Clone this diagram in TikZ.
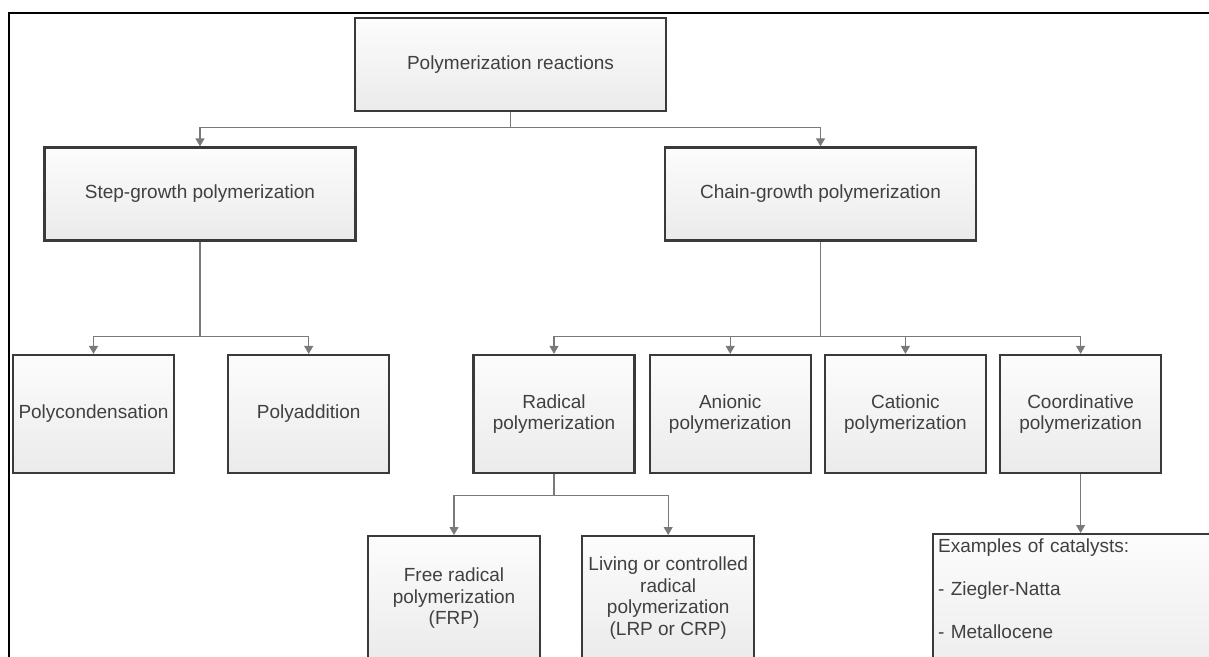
\documentclass[tikz,border=0pt]{standalone}
\usepackage{fontspec}
\setmainfont{Liberation Sans}
\usetikzlibrary{positioning,arrows.meta,calc}

\definecolor{boxline}{HTML}{3A3A3A}
\definecolor{linkgray}{HTML}{7A7A7A}
\definecolor{txtgray}{HTML}{404040}

\begin{document}
\begin{tikzpicture}[
  x=0.5pt, y=-0.5pt,
  font=\fontsize{9.5}{10.8}\selectfont,
  >={Triangle[length=4pt,width=4.5pt]},
  box/.style={draw=boxline, line width=1.1pt, align=center, text=txtgray,
              top color=black!1, bottom color=black!8, inner xsep=0.3pt, inner ysep=2pt},
  big/.style={box, minimum width=155.5pt, minimum height=46.5pt},
  small/.style={box, minimum width=80.5pt, minimum height=59pt},
  tall/.style={box, minimum width=86pt, minimum height=62pt, anchor=north},
  note/.style={box, anchor=north west, align=left, text width=155pt,
               inner xsep=2.5pt, inner ysep=2.5pt},
  link/.style={draw=linkgray, line width=0.55pt},
  arr/.style={link, ->},
]
\useasboundingbox (0,0) rectangle (1209,657);
\clip (0,0) rectangle (1209,657);

%% ---------- frame ----------
\draw[line width=1pt] (9,657) -- (9,13) -- (1209,13);

%% ---------- row 1 and 2 ----------
\node[big] (root) at (510.5,64.5) {Polymerization reactions};

\node[big] (step) at (200,194) {Step-growth polymerization};
\node[big] (chain) at (820.5,194) {Chain-growth polymerization};

\coordinate (rootj) at ($(root.south)+(0,15)$);
\draw[link] (root.south) -- (rootj);
\draw[arr] (rootj) -| (step.north);
\draw[arr] (rootj) -| (chain.north);

%% ---------- row 3 ----------
\node[small] (polycond) at (93.5,414) {Polycondensation};
\node[small, right=26pt of polycond] (polyadd) {Polyaddition};

\node[small] (radical) at (554,414) {Radical\\ polymerization};
\node[small, right=6.5pt of radical] (anionic) {Anionic\\ polymerization};
\node[small, right=6pt of anionic] (cationic) {Cationic\\ polymerization};
\node[small, right=6pt of cationic] (coord) {Coordinative\\ polymerization};

\coordinate (stepj) at ($(step.south |- polycond.north)+(0,-17)$);
\draw[link] (step.south) -- (stepj);
\draw[arr] (stepj) -| (polycond.north);
\draw[arr] (stepj) -| (polyadd.north);

\coordinate (chainj) at ($(chain.south |- radical.north)+(0,-17)$);
\draw[link] (chain.south) -- (chainj);
\foreach \n in {radical,anionic,cationic,coord}
  \draw[arr] (chainj) -| (\n.north);

%% ---------- row 4 ----------
\node[tall] (frp) at (454,535) {Free radical\\ polymerization\\ (FRP)};
\node[tall, right=20pt of frp] (lrp) {Living or controlled\\ radical\\ polymerization\\ (LRP or CRP)};

\coordinate (radj) at ($(radical.south)+(0,21)$);
\draw[link] (radical.south) -- (radj);
\draw[arr] (radj) -| (frp.north);
\draw[arr] (radj) -| (lrp.north);

\node[note] (cat) at (932,533) {Examples of catalysts:\\[10.7pt]
  - Ziegler-Natta\\[10.7pt]
  - Metallocene\\[10.7pt] ~};
\draw[arr] (coord.south) -- (coord.south |- cat.north);

\end{tikzpicture}
\end{document}
